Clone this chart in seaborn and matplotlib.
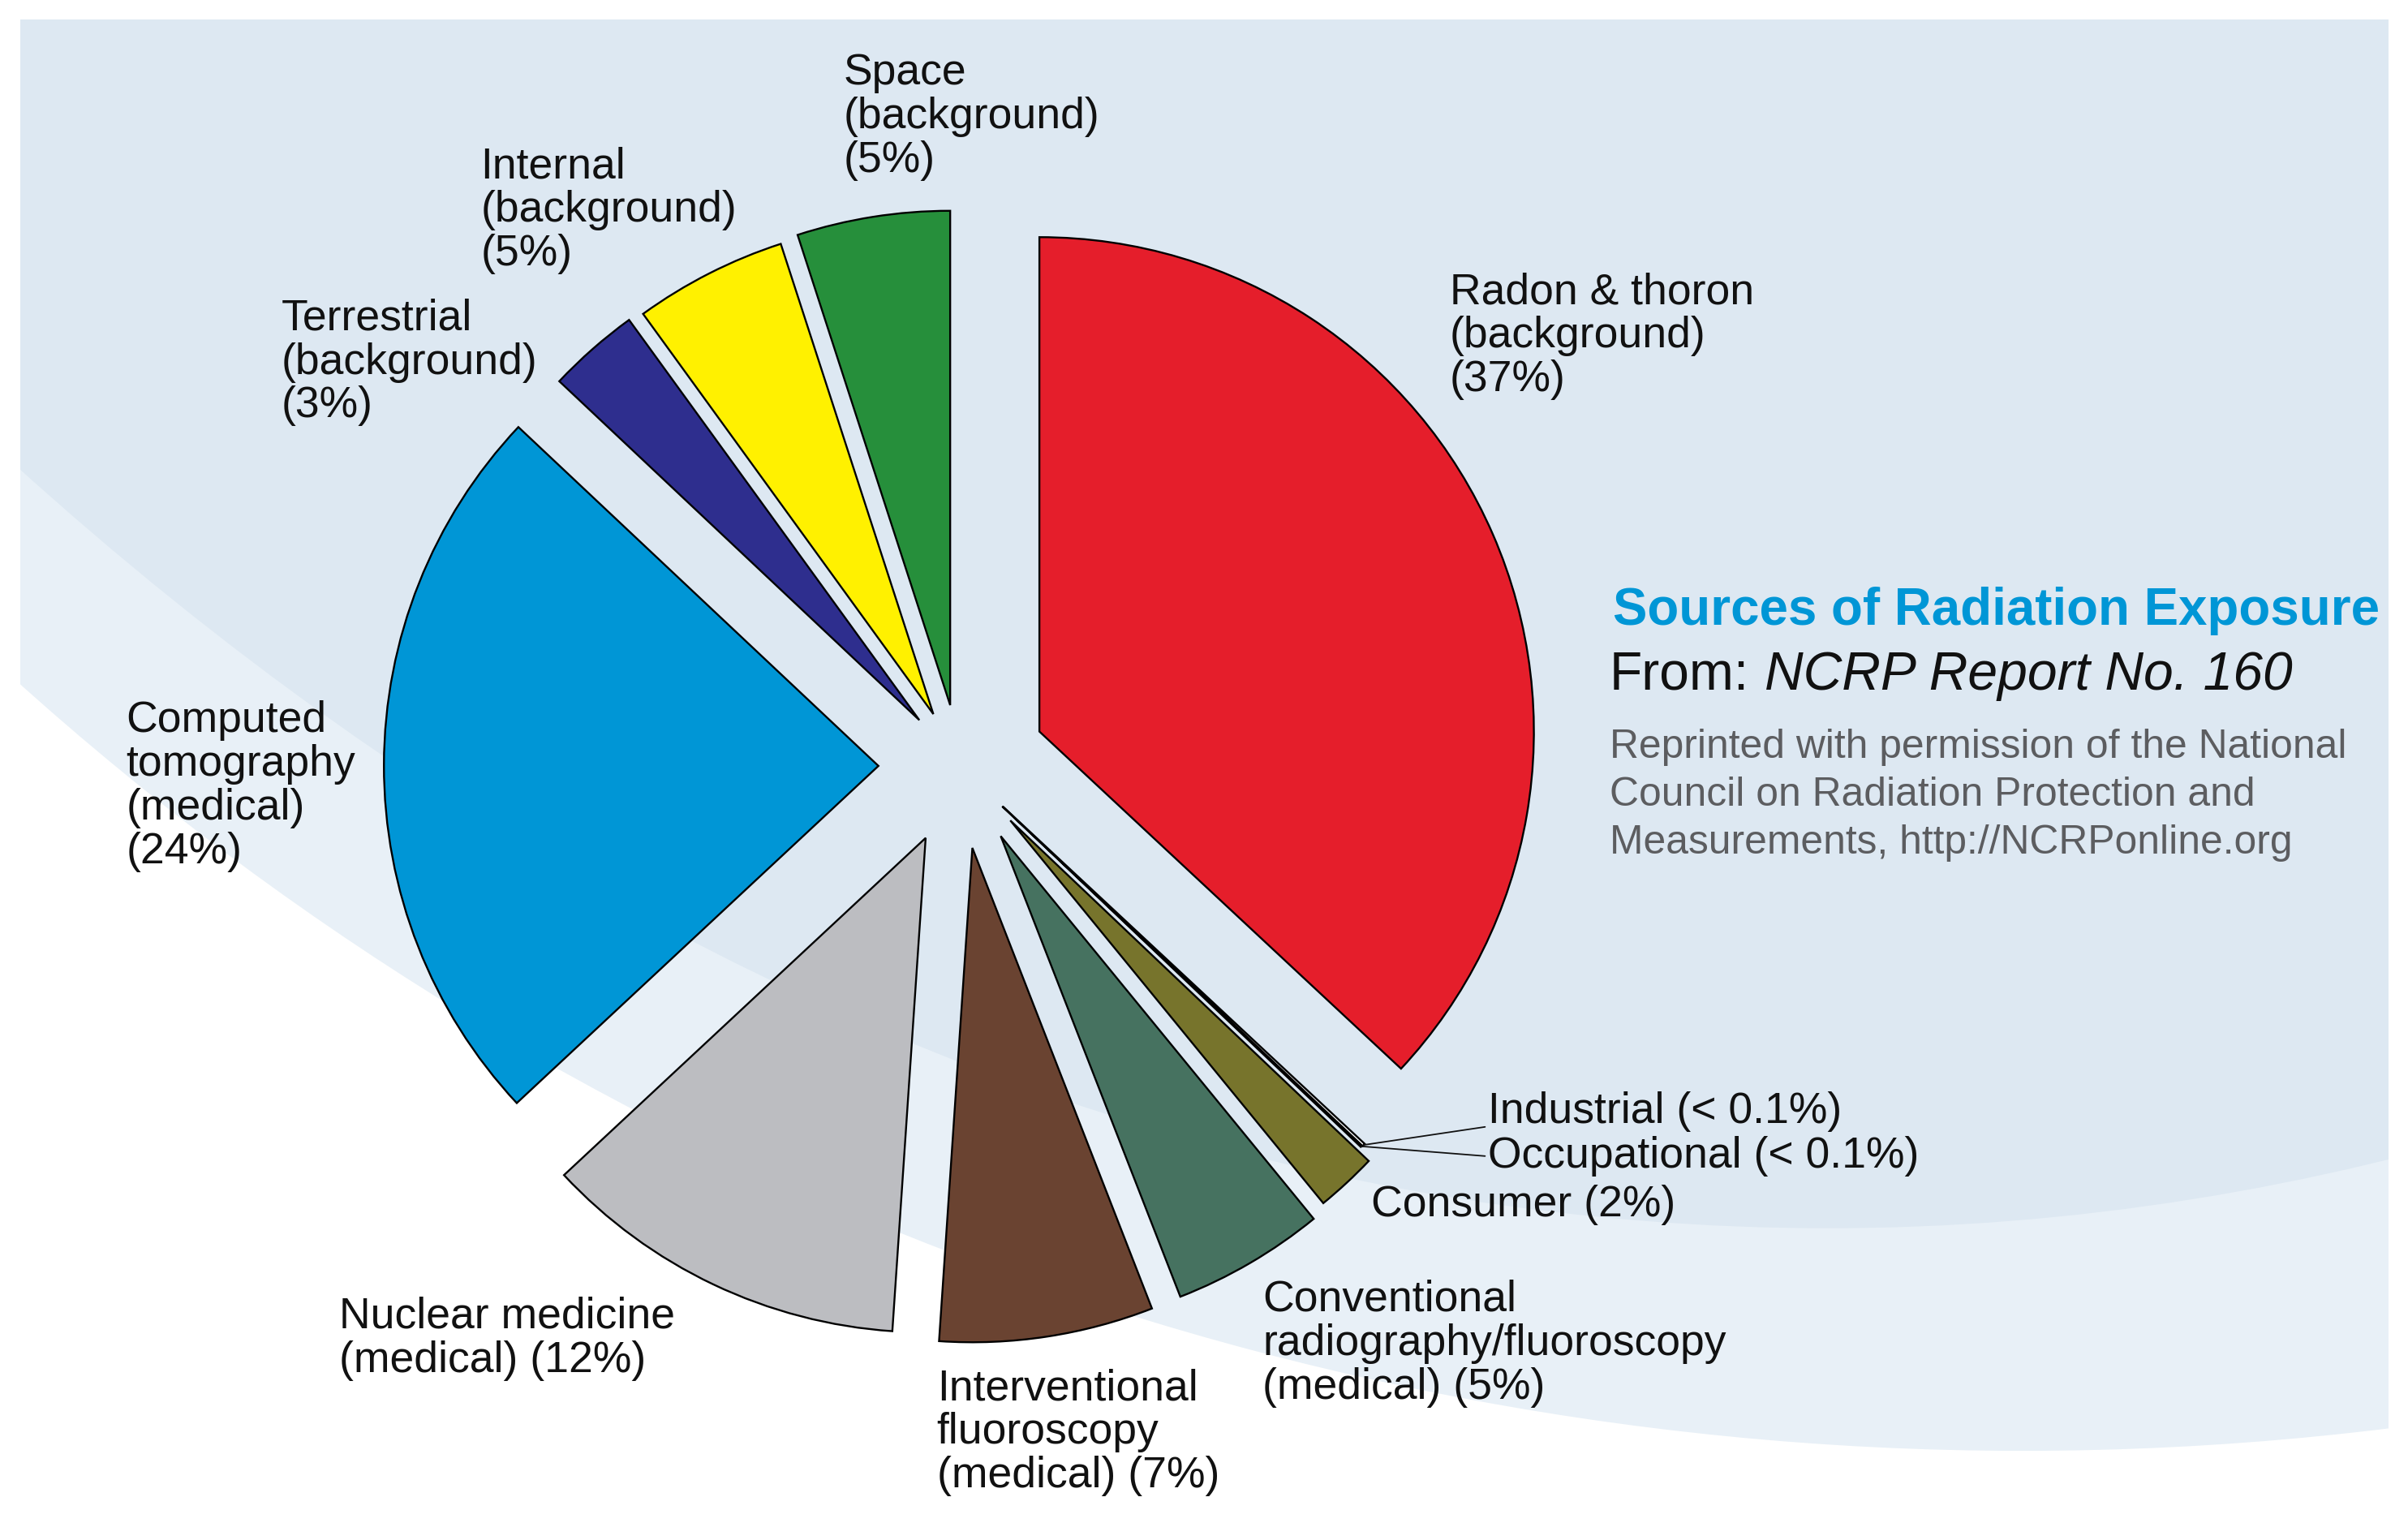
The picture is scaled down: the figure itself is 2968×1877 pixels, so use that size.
import matplotlib
matplotlib.use("Agg")
import matplotlib.pyplot as plt
import numpy as np
import pandas as pd
import seaborn as sns
from matplotlib.patches import Rectangle, Ellipse, Circle

# ---------------- data ----------------
sources = ["Radon & thoron", "Industrial", "Occupational", "Consumer",
           "Conventional radiography/fluoroscopy", "Interventional fluoroscopy",
           "Nuclear medicine", "Computed tomography", "Terrestrial", "Internal", "Space"]
share_pct = [37, 0.1, 0.05, 2, 5, 7, 12, 24, 3, 5, 5]
label_texts = ["Radon & thoron\n(background)\n(37%)",
               "Industrial (< 0.1%)",
               "Occupational (< 0.1%)",
               "Consumer (2%)",
               "Conventional\nradiography/fluoroscopy\n(medical) (5%)",
               "Interventional\nfluoroscopy\n(medical) (7%)",
               "Nuclear medicine\n(medical) (12%)",
               "Computed\ntomography\n(medical)\n(24%)",
               "Terrestrial\n(background)\n(3%)",
               "Internal\n(background)\n(5%)",
               "Space\n(background)\n(5%)"]
title_text = "Sources of Radiation Exposure"
source_prefix = "From:"
source_name = "NCRP Report No. 160"
credit_text = ("Reprinted with permission of the National\n"
               "Council on Radiation Protection and\n"
               "Measurements, http://NCRPonline.org")

df = pd.DataFrame({"source": sources, "pct": share_pct, "label": label_texts})

# ---------------- styles / layout ----------------
slice_colors = ["#e51e2b", "#ffffff", "#1a1a1a", "#77742c", "#467260", "#6a4331",
                "#bcbdc1", "#0096d6", "#2e2e8e", "#fff100", "#268f3b"]
explode_px = [56.5, 38.6, 38.1, 48.3, 52.8, 53.9, 51.8, 53.0, 39.9, 38.0, 40.2]
# label anchors in picture units (left x, vertical centre y measured from top)
label_pos = [(944, 219), (969, 724), (969, 753), (893, 785), (822, 875), (610, 933),
             (221, 872), (82, 512), (183, 236), (313, 137), (549, 76)]
leader_ends = {1: (967, 734), 2: (967, 753)}

W, H = 1568, 992

sns.set_theme(style="white")
plt.rcParams["font.family"] = ["Liberation Sans", "DejaVu Sans"]

fig = plt.figure(figsize=(29.68, 18.77), dpi=100)
ax = fig.add_axes([0, 0, 1, 1])

# background panel with curved light bands
panel = Rectangle((13.2, 0), 1555.3 - 13.2, H - 12.7, facecolor="white",
                  edgecolor="none", zorder=0)
ax.add_patch(panel)
band = Circle((1317, H + 1007), 1952, facecolor="#e8f0f7", edgecolor="none", zorder=0.1)
ax.add_patch(band)
band.set_clip_path(panel)
top = Ellipse((1190, H + 3046), 4800, 7692, facecolor="#dde8f2", edgecolor="none", zorder=0.2)
ax.add_patch(top)
top.set_clip_path(panel)

# exploded pie
wedges, _ = ax.pie(df["pct"], colors=slice_colors, explode=explode_px,
                   startangle=90, counterclock=False, radius=322,
                   center=(625, H - 499),
                   wedgeprops=dict(edgecolor="black", linewidth=1.7, zorder=2))

ax.set_xlim(0, W)
ax.set_ylim(0, H)
ax.set_aspect("auto")
ax.axis("off")

# labels
for txt, (x, y) in zip(df["label"], label_pos):
    ax.text(x, H - y, txt, ha="left", va="center", fontsize=38.5,
            linespacing=1.1, color="#111111", zorder=5)

# leader lines for tiny slices
for idx, (ex, ey) in leader_ends.items():
    w = wedges[idx]
    th = np.deg2rad((w.theta1 + w.theta2) / 2)
    tx = w.center[0] + w.r * np.cos(th)
    ty = w.center[1] + w.r * np.sin(th)
    ax.plot([tx, ex], [ty, H - ey], color="#111111", lw=1.3, zorder=4)

# side panel text
ax.text(1050, H - 398, title_text, ha="left", va="center", fontsize=45.8,
        fontweight="bold", color="#0096d6", zorder=5)
t1 = ax.text(1048, H - 440, source_prefix, ha="left", va="center", fontsize=47.5,
             color="#111111", zorder=5)
ax.annotate(source_name, xy=(1, 0), xycoords=t1, xytext=(13.5, 0),
            textcoords="offset points", ha="left", va="bottom", fontsize=47.5,
            style="italic", color="#111111", zorder=5)
ax.text(1048, H - 518, credit_text, ha="left", va="center", fontsize=35.8,
        linespacing=1.37, color="#5c5d60", zorder=5)

fig.savefig("out.png", dpi=100)
